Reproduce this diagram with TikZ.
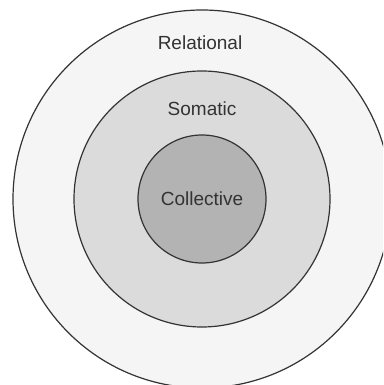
\documentclass[tikz,border=0pt]{standalone}
\usepackage{fontspec}
\setmainfont{Liberation Sans}
\definecolor{ringline}{HTML}{333333}
\definecolor{outerfill}{HTML}{F5F5F5}
\definecolor{midfill}{HTML}{DBDBDB}
\definecolor{innerfill}{HTML}{B3B3B3}
\begin{document}
\begin{tikzpicture}[x=1pt,y=1pt,
    ring/.style={circle,draw=ringline,line width=1.2pt,inner sep=0pt},
    ringlabel/.style={text=ringline,font=\fontsize{19}{22}\selectfont}]
\clip (0,0) rectangle (383,385);
\useasboundingbox (0,0) rectangle (383,385);
\fill[white] (0,0) rectangle (383,385);
\coordinate (c) at (202,186);
\node[ring,fill=outerfill,minimum size=378pt] (relational) at (c) {};
\node[ring,fill=midfill,minimum size=256pt] (somatic) at (c) {};
\node[ring,fill=innerfill,minimum size=128pt] (collective) at (c) {};
\node[ringlabel] (relationaltext) at (200,342) {Relational};
\node[ringlabel] (somatictext) at (202,276) {Somatic};
\node[ringlabel] (collectivetext) at (202,186) {Collective};
\end{tikzpicture}
\end{document}
